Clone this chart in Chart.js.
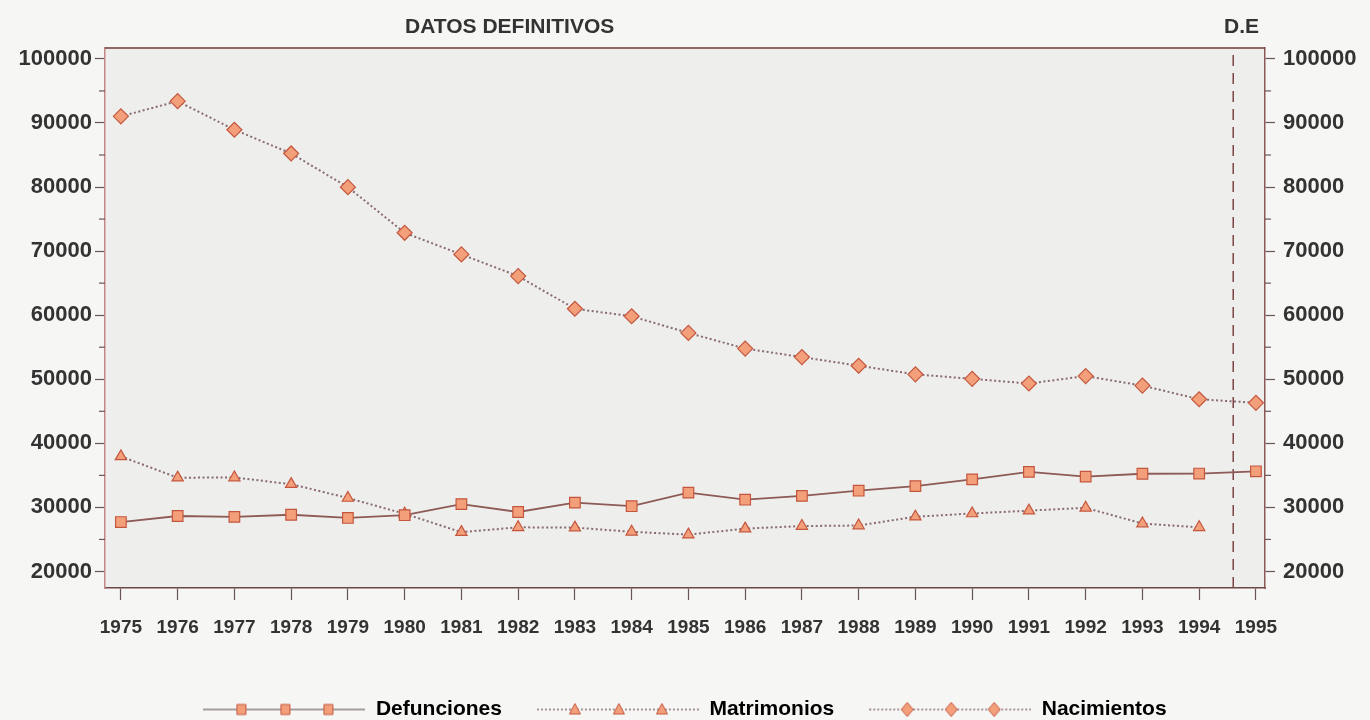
<!DOCTYPE html>
<html>
<head>
<meta charset="utf-8">
<script src="https://cdn.jsdelivr.net/npm/chart.js@4.4.1/dist/chart.umd.min.js"></script>
<style>
  html, body { margin: 0; padding: 0; background: #f6f6f4; overflow: hidden; }
  #wrap { position: relative; width: 1370px; height: 720px; }
  #chart { position: absolute; left: 0; top: 0; }
  .lbl { position: absolute; font: bold 21px "Liberation Sans", Arial, sans-serif; color: #333; line-height: 1; white-space: nowrap; }
</style>
</head>
<body>
<div id="wrap">
  <canvas id="chart" width="1370" height="730"></canvas>
  <div class="lbl" style="left:405px; top:15px;">DATOS DEFINITIVOS</div>
  <div class="lbl" style="left:1224px; top:15px;">D.E</div>
</div>
<script>
// data
const years = [1975, 1976, 1977, 1978, 1979, 1980, 1981, 1982, 1983, 1984, 1985,
  1986, 1987, 1988, 1989, 1990, 1991, 1992, 1993, 1994, 1995]
const defunciones = [27710, 28660, 28520, 28850, 28350, 28780, 30510, 29280, 30750, 30190, 32300,
  31200, 31800, 32610, 33320, 34380, 35550, 34810, 35250, 35280, 35630]
const matrimonios = [37960, 34640, 34660, 33630, 31470, 29000, 26140, 26890, 26850, 26190, 25750,
  26690, 27090, 27170, 28550, 29050, 29490, 29940, 27480, 26890, null]
const nacimientos = [91030, 93400, 88940, 85240, 79980, 72860, 69480, 66100, 61000, 59830, 57230,
  54790, 53460, 52110, 50770, 50060, 49340, 50500, 49010, 46880, 46320]
const yTicks = [20000, 30000, 40000, 50000, 60000, 70000, 80000, 90000, 100000]
const seriesNames = ["Defunciones", "Matrimonios", "Nacimientos"]
const deLine = 1994.6 // start of the D.E (estimated) data

const fill = "#f3a07a"
const edge = "#c4563e"
const lineCol = "#8d5a55"
const dotCol = "#8a6a70"
const fontName = '"Liberation Sans", Arial, sans-serif'

const toXY = (vals) => years.map((y, i) => ({ x: y, y: vals[i] }))

// small canvas with line + 3 markers, used as the legend sample
const makeSample = (shape, dotted, col) => {
  const c = document.createElement("canvas")
  c.width = 162
  c.height = 18
  const g = c.getContext("2d")
  g.strokeStyle = col
  g.lineWidth = 1.4
  if (dotted) g.setLineDash([2, 2])
  g.beginPath()
  g.moveTo(0, 9)
  g.lineTo(162, 9)
  g.stroke()
  g.setLineDash([])
  g.fillStyle = fill
  g.strokeStyle = edge
  g.lineWidth = 1;
  [38, 82, 125].forEach(x => {
    g.beginPath()
    if (shape === "rect") g.rect(x - 4.5, 4, 9, 10)
    if (shape === "triangle") { g.moveTo(x, 3); g.lineTo(x + 5.5, 13.5); g.lineTo(x - 5.5, 13.5); g.closePath() }
    if (shape === "rectRot") { g.moveTo(x, 2); g.lineTo(x + 6, 9); g.lineTo(x, 16); g.lineTo(x - 6, 9); g.closePath() }
    g.fill()
    g.stroke()
  })
  return c
}
const samples = [makeSample("rect", false, "#8a8080"), makeSample("triangle", true, dotCol), makeSample("rectRot", true, dotCol)]

// plot background, top border and short minor ticks
const frame = {
  id: "frame",
  beforeDraw(chart) {
    const { ctx, chartArea: a } = chart
    ctx.save()
    ctx.fillStyle = "#eeeeec"
    ctx.fillRect(a.left, a.top, a.right - a.left, a.bottom - a.top)
    ctx.restore()
  },
  afterDraw(chart) {
    const { ctx, chartArea: a, scales } = chart
    ctx.save()
    ctx.strokeStyle = "#6e3b3b"
    ctx.lineWidth = 1.5
    ctx.beginPath()
    ctx.moveTo(a.left, a.top)
    ctx.lineTo(a.right, a.top)
    ctx.stroke()
    ctx.strokeStyle = "#6b5656"
    ctx.lineWidth = 1.2
    for (let v = 25000; v < 100000; v += 10000) {
      const yl = scales.y.getPixelForValue(v)
      ctx.beginPath(); ctx.moveTo(a.left - 6, yl); ctx.lineTo(a.left, yl); ctx.stroke()
      const yr = scales.y1.getPixelForValue(v)
      ctx.beginPath(); ctx.moveTo(a.right, yr); ctx.lineTo(a.right + 6, yr); ctx.stroke()
    }
    ctx.restore()
  }
}

const yAxis = (pos, borderCol) => ({
  type: "linear",
  position: pos,
  min: 17420,
  max: 101700,
  afterBuildTicks: (s) => { s.ticks = yTicks.map(v => ({ value: v })) },
  afterFit: (s) => { s.width = 105 },
  grid: { drawOnChartArea: false, tickLength: 10, tickColor: "#6b5656", tickWidth: 1.2 },
  border: { color: borderCol, width: 1.5 },
  ticks: { padding: pos === "left" ? 3 : 8, color: "#333", font: { family: fontName, size: 22, weight: "bold" }, callback: v => String(v) }
})

const ds = (label, vals, shape, radius, col, dotted) => ({
  label,
  data: toXY(vals),
  borderColor: col,
  borderWidth: dotted ? 2 : 1.8,
  borderDash: dotted ? [2, 2.5] : [],
  pointStyle: shape,
  pointRadius: radius,
  pointBackgroundColor: fill,
  pointBorderColor: edge,
  pointBorderWidth: 1.2,
  spanGaps: false,
  tension: 0
})

const chart = new Chart(document.getElementById("chart"), {
  type: "line",
  data: {
    datasets: [
      ds(seriesNames[0], defunciones, "rect", 7.5, lineCol, false),
      ds(seriesNames[1], matrimonios, "triangle", 6.5, dotCol, true),
      ds(seriesNames[2], nacimientos, "rectRot", 7.5, dotCol, true),
      {
        label: "D.E",
        data: [{ x: deLine, y: 17420 }, { x: deLine, y: 101700 }],
        borderColor: "#7a4444",
        borderWidth: 1.5,
        borderDash: [11, 7],
        pointRadius: 0
      }
    ]
  },
  options: {
    responsive: false,
    animation: false,
    devicePixelRatio: 1,
    layout: { padding: { top: 48, left: 0, right: 0, bottom: 0 } },
    scales: {
      x: {
        type: "linear",
        min: 1974.72,
        max: 1995.16,
        afterBuildTicks: (s) => { s.ticks = years.map(v => ({ value: v })) },
        afterFit: (s) => { s.height = 76 },
        grid: { drawOnChartArea: false, tickLength: 12, tickColor: "#6b5656", tickWidth: 1.2 },
        border: { color: "#6a4848", width: 1.5 },
        ticks: { padding: 16, maxRotation: 0, autoSkip: false, color: "#333", font: { family: fontName, size: 19, weight: "bold" }, callback: v => String(v) }
      },
      y: yAxis("left", "#c48686"),
      y1: yAxis("right", "#8c5757")
    },
    plugins: {
      tooltip: { enabled: false },
      legend: {
        position: "bottom",
        labels: {
          usePointStyle: true,
          pointStyleWidth: 162,
          padding: 35,
          color: "#333",
          font: { family: fontName, size: 21, weight: "bold" },
          generateLabels: () => seriesNames.map((n, i) => ({
            text: n,
            pointStyle: samples[i],
            fillStyle: "transparent",
            strokeStyle: "transparent",
            lineWidth: 0,
            datasetIndex: i
          }))
        }
      }
    }
  },
  plugins: [frame]
})
</script>
</body>
</html>
